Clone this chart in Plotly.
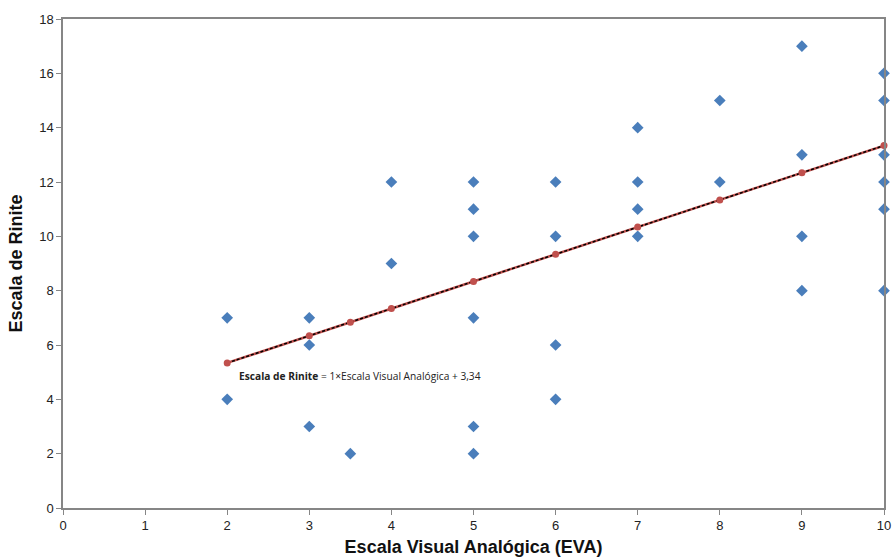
import plotly.graph_objects as go

# Observed data (Escala Visual Analógica vs Escala de Rinite)
eva = [2, 2, 3, 3, 3, 3.5, 4, 4, 5, 5, 5, 5, 5, 5, 6, 6, 6, 6,
       7, 7, 7, 7, 8, 8, 9, 9, 9, 9, 10, 10, 10, 10, 10, 10]
rinite = [7, 4, 7, 6, 3, 2, 12, 9, 12, 11, 10, 7, 3, 2, 12, 10, 6, 4,
          14, 12, 11, 10, 15, 12, 17, 13, 10, 8, 16, 15, 13, 12, 11, 8]

# Fitted regression values
fit_x = [2, 3, 3.5, 4, 5, 6, 7, 8, 9, 10]
slope = 1
intercept = 3.34
fit_y = [slope * v + intercept for v in fit_x]

x_ticks = [0, 1, 2, 3, 4, 5, 6, 7, 8, 9, 10]
y_ticks = [0, 2, 4, 6, 8, 10, 12, 14, 16, 18]

fig = go.Figure()
fig.add_trace(go.Scatter(
    x=eva, y=rinite, mode="markers", cliponaxis=False,
    marker=dict(symbol="diamond", size=9, color="#4a7ebb"),
    showlegend=False))
fig.add_trace(go.Scatter(
    x=fit_x, y=fit_y, mode="lines", cliponaxis=False,
    line=dict(color="#c0504d", width=2.5), showlegend=False))
fig.add_trace(go.Scatter(
    x=fit_x, y=fit_y, mode="lines", cliponaxis=False,
    line=dict(color="#000000", width=1.5, dash="3px,2px"), showlegend=False))
fig.add_trace(go.Scatter(
    x=fit_x, y=fit_y, mode="markers", cliponaxis=False,
    marker=dict(symbol="circle", size=7, color="#c0504d"),
    showlegend=False))

fig.add_annotation(
    x=2.12, y=4.86, xref="x", yref="y", xanchor="left", yanchor="middle",
    text="<b>Escala de Rinite</b> = 1×Escala Visual Analógica + 3,34",
    showarrow=False, font=dict(family="Open Sans, sans-serif", size=10.2, color="#222"))

axis_common = dict(
    showgrid=False, zeroline=False, showline=True, linecolor="#868686",
    linewidth=1.5, mirror=True, ticks="outside", ticklen=5, tickcolor="#868686",
    automargin=False,
    tickfont=dict(family="Liberation Sans, Arial, sans-serif", size=13, color="#222"))

fig.update_xaxes(range=[0, 10], tickvals=x_ticks, **axis_common,
                 title=dict(text="<b>Escala Visual Analógica (EVA)</b>", standoff=8,
                            font=dict(family="Liberation Sans, Arial, sans-serif", size=18, color="#111")))
fig.update_yaxes(range=[0, 18], tickvals=y_ticks, **axis_common,
                 title=dict(text="<b>Escala de Rinite</b>", standoff=12,
                            font=dict(family="Liberation Sans, Arial, sans-serif", size=18, color="#111")))

fig.update_layout(
    width=893, height=558,
    margin=dict(l=63, r=9, t=19, b=50),
    plot_bgcolor="white", paper_bgcolor="white")

fig.write_html("out.html")
